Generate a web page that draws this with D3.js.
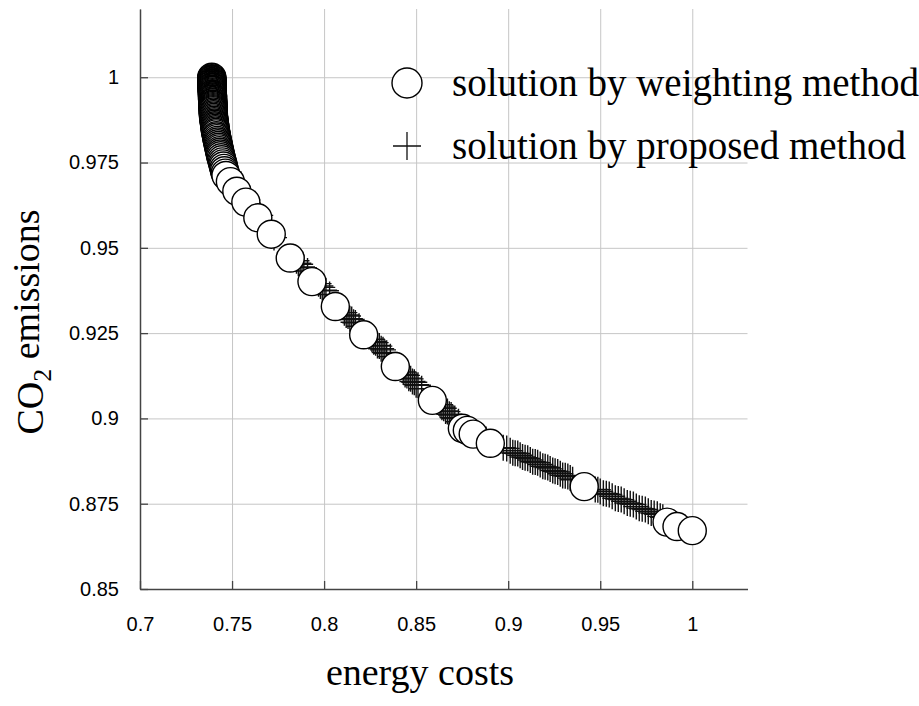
<!DOCTYPE html>
<html>
<head>
<meta charset="utf-8">
<script src="https://cdn.jsdelivr.net/npm/d3@7"></script>
<style>
	body { margin: 0; background: #fff; }
	.tick text { font-family: "Liberation Sans", Arial, sans-serif; font-size: 20px; fill: #000; }
	.grid line { stroke: #c6c6c6; stroke-width: 1; }
	.grid path { display: none; }
	.title { font-family: "Liberation Serif", "Times New Roman", serif; font-size: 38px; fill: #000; }
	.legend text { font-size: 39px; }
</style>
</head>
<body>
<svg id="chart" width="919" height="706"></svg>
<script>

// energy cost / CO2 emission pairs, weighting method
const weightingPoints = [
	[0.7390,1.0000],[0.7390,0.9998],[0.7390,0.9996],[0.7390,0.9994],[0.7390,0.9992],[0.7390,0.9990],
	[0.7390,0.9988],[0.7391,0.9986],[0.7391,0.9984],[0.7391,0.9982],[0.7391,0.9980],[0.7391,0.9978],
	[0.7391,0.9976],[0.7392,0.9974],[0.7392,0.9972],[0.7392,0.9970],[0.7392,0.9968],[0.7392,0.9966],
	[0.7392,0.9964],[0.7393,0.9962],[0.7393,0.9960],[0.7393,0.9957],[0.7393,0.9955],[0.7393,0.9952],
	[0.7393,0.9950],[0.7394,0.9947],[0.7394,0.9945],[0.7394,0.9942],[0.7394,0.9940],[0.7394,0.9937],
	[0.7394,0.9935],[0.7395,0.9932],[0.7395,0.9930],[0.7395,0.9927],[0.7395,0.9925],[0.7396,0.9922],
	[0.7396,0.9920],[0.7396,0.9917],[0.7396,0.9914],[0.7397,0.9911],[0.7397,0.9908],[0.7397,0.9905],
	[0.7397,0.9902],
	[0.7398,0.9898],[0.7398,0.9894],[0.7399,0.9890],[0.7399,0.9886],[0.7400,0.9882],[0.7401,0.9878],
	[0.7402,0.9874],[0.7403,0.9870],[0.7404,0.9866],[0.7405,0.9862],[0.7406,0.9858],[0.7407,0.9854],
	[0.7408,0.9850],[0.7409,0.9846],[0.7410,0.9842],[0.7412,0.9838],[0.7413,0.9834],[0.7415,0.9829],
	[0.7416,0.9825],[0.7418,0.9820],[0.7420,0.9815],[0.7422,0.9810],[0.7424,0.9805],[0.7426,0.9800],
	[0.7428,0.9795],[0.7430,0.9790],[0.7432,0.9785],[0.7434,0.9780],[0.7436,0.9775],[0.7438,0.9770],
	[0.7441,0.9764],[0.7444,0.9758],[0.7447,0.9752],[0.7450,0.9746],[0.7453,0.9740],[0.7456,0.9733],
	[0.7459,0.9726],[0.7463,0.9719],[0.7467,0.9712],
	[0.7491,0.9694],[0.7526,0.9666],[0.7575,0.9634],[0.7640,0.9588],[0.7713,0.9540],[0.7816,0.9470],
	[0.7934,0.9401],[0.8061,0.9328],[0.8215,0.9245],[0.8387,0.9152],[0.8588,0.9053],[0.8751,0.8971],
	[0.8778,0.8965],[0.8810,0.8954],[0.8903,0.8927],[0.9413,0.8800],[0.9863,0.8696],[0.9917,0.8683],
	[1.0000,0.8671]
];

// proposed method
const proposedPoints = [
	[0.7398,0.9975],[0.7400,0.9935],[0.7405,0.9900],[0.7412,0.9860],[0.7422,0.9820],[0.7438,0.9780],
	[0.7458,0.9745],[0.7483,0.9722],[0.7530,0.9680],[0.7583,0.9640],[0.7653,0.9595],[0.7728,0.9530],
	[0.7850,0.9462],[0.7860,0.9455],[0.7870,0.9452],[0.7880,0.9444],[0.7890,0.9442],[0.7910,0.9432],
	[0.7970,0.9395],[0.7980,0.9388],[0.7990,0.9384],[0.8000,0.9376],[0.8010,0.9374],[0.8030,0.9363],
	[0.8110,0.9310],[0.8120,0.9303],[0.8130,0.9300],[0.8140,0.9292],[0.8150,0.9290],[0.8160,0.9282],
	[0.8170,0.9280],[0.8190,0.9270],
	[0.8260,0.9232],[0.8270,0.9225],[0.8280,0.9222],[0.8290,0.9214],[0.8300,0.9212],[0.8310,0.9204],
	[0.8320,0.9201],[0.8330,0.9193],[0.8340,0.9191],[0.8360,0.9181],
	[0.8430,0.9136],[0.8440,0.9129],[0.8450,0.9126],[0.8460,0.9118],[0.8470,0.9116],[0.8480,0.9108],
	[0.8490,0.9106],[0.8500,0.9099],[0.8510,0.9097],[0.8530,0.9087],
	[0.8630,0.9040],[0.8640,0.9033],[0.8650,0.9030],[0.8660,0.9022],[0.8670,0.9020],[0.8680,0.9012],
	[0.8690,0.9010],[0.8700,0.9002],[0.8710,0.9000],[0.8730,0.8990],
	[0.8790,0.8962],[0.8840,0.8950],[0.8880,0.8938],
	[0.8973,0.8914],[0.8992,0.8912],[0.9011,0.8905],[0.9025,0.8899],[0.9038,0.8898],[0.9052,0.8897],
	[0.9065,0.8892],[0.9078,0.8887],[0.9092,0.8885],[0.9106,0.8883],[0.9120,0.8878],[0.9133,0.8873],
	[0.9147,0.8872],[0.9160,0.8870],[0.9174,0.8865],[0.9188,0.8860],[0.9201,0.8858],[0.9215,0.8856],
	[0.9228,0.8852],[0.9242,0.8847],[0.9255,0.8845],[0.9269,0.8843],[0.9283,0.8838],[0.9296,0.8833],
	[0.9310,0.8832],[0.9324,0.8830],[0.9337,0.8825],[0.9350,0.8820],
	[0.9473,0.8792],[0.9487,0.8791],[0.9500,0.8786],[0.9517,0.8781],[0.9533,0.8779],[0.9549,0.8777],
	[0.9565,0.8772],[0.9582,0.8766],[0.9598,0.8764],[0.9614,0.8762],[0.9630,0.8757],[0.9647,0.8752],
	[0.9663,0.8750],[0.9680,0.8748],[0.9696,0.8742],[0.9712,0.8737],[0.9728,0.8735],[0.9745,0.8733],
	[0.9761,0.8728],[0.9777,0.8723],[0.9793,0.8721],[0.9810,0.8719],[0.9826,0.8713],[0.9840,0.8710],
	[0.9890,0.8694],[0.9960,0.8680]
];

const xTicks = [0.7, 0.75, 0.8, 0.85, 0.9, 0.95, 1];
const yTicks = [0.85, 0.875, 0.9, 0.925, 0.95, 0.975, 1];
const xDomain = [0.7, 1.03];
const yDomain = [0.85, 1.02];
const legendLabels = ["solution by weighting method", "solution by proposed method"];

const svg = d3.select("#chart");
const plotL = 140, plotR = 747.5, plotT = 9, plotB = 589;

const x = d3.scaleLinear().domain(xDomain).range([plotL, plotR]);
const y = d3.scaleLinear().domain(yDomain).range([plotB, plotT]);
const fmt = d => String(d);

// grid
svg.append("g").attr("class", "grid")
	.attr("transform", `translate(0,${plotB})`)
	.call(d3.axisBottom(x).tickValues(xTicks).tickSize(-(plotB - plotT)).tickFormat(""));
svg.append("g").attr("class", "grid")
	.attr("transform", `translate(${plotL},0)`)
	.call(d3.axisLeft(y).tickValues(yTicks).tickSize(-(plotR - plotL)).tickFormat(""));

// axes
const xAxis = svg.append("g")
	.attr("transform", `translate(0,${plotB})`)
	.call(d3.axisBottom(x).tickValues(xTicks).tickSize(-8).tickSizeOuter(0).tickPadding(28).tickFormat(fmt));
const yAxis = svg.append("g")
	.attr("transform", `translate(${plotL},0)`)
	.call(d3.axisLeft(y).tickValues(yTicks).tickSize(-8).tickSizeOuter(0).tickPadding(21).tickFormat(fmt));
[xAxis, yAxis].forEach(a => {
	a.select(".domain").attr("stroke", "#444").attr("stroke-width", 1.5);
	a.selectAll(".tick line").attr("stroke", "#444").attr("stroke-width", 1.3);
});

const plus = "M-13,0H13M0,-13V13";

// proposed solutions go under the circles
svg.append("g").selectAll("path")
	.data(proposedPoints)
	.join("path")
	.attr("d", plus)
	.attr("transform", d => `translate(${x(d[0])},${y(d[1])})`)
	.attr("stroke", "#111")
	.attr("stroke-width", 1.4)
	.attr("fill", "none");

svg.append("g").selectAll("circle")
	.data(weightingPoints)
	.join("circle")
	.attr("cx", d => x(d[0]))
	.attr("cy", d => y(d[1]))
	.attr("r", 14)
	.attr("fill", "#fff")
	.attr("stroke", "#000")
	.attr("stroke-width", 1.4);

// legend
const lg = svg.append("g").attr("class", "legend");
lg.append("circle").attr("cx", 407).attr("cy", 83).attr("r", 15)
	.attr("fill", "#fff").attr("stroke", "#000").attr("stroke-width", 1.4);
lg.append("path").attr("d", "M-14,0H14M0,-14V14").attr("transform", "translate(407,146)")
	.attr("stroke", "#111").attr("stroke-width", 1.3);
lg.selectAll("text")
	.data(legendLabels)
	.join("text")
	.attr("class", "title")
	.attr("x", 452)
	.attr("y", (d, i) => 96 + i * 63)
	.text(d => d);

// axis titles
svg.append("text").attr("class", "title")
	.attr("x", 420).attr("y", 685)
	.attr("text-anchor", "middle")
	.text("energy costs");

const yt = svg.append("text").attr("class", "title")
	.attr("transform", "translate(43,322) rotate(-90)")
	.attr("text-anchor", "middle");
yt.append("tspan").text("CO");
yt.append("tspan").attr("font-size", "26px").attr("dy", "0.3em").text("2");
yt.append("tspan").attr("dy", "-0.3em").text(" emissions");

</script>
</body>
</html>
